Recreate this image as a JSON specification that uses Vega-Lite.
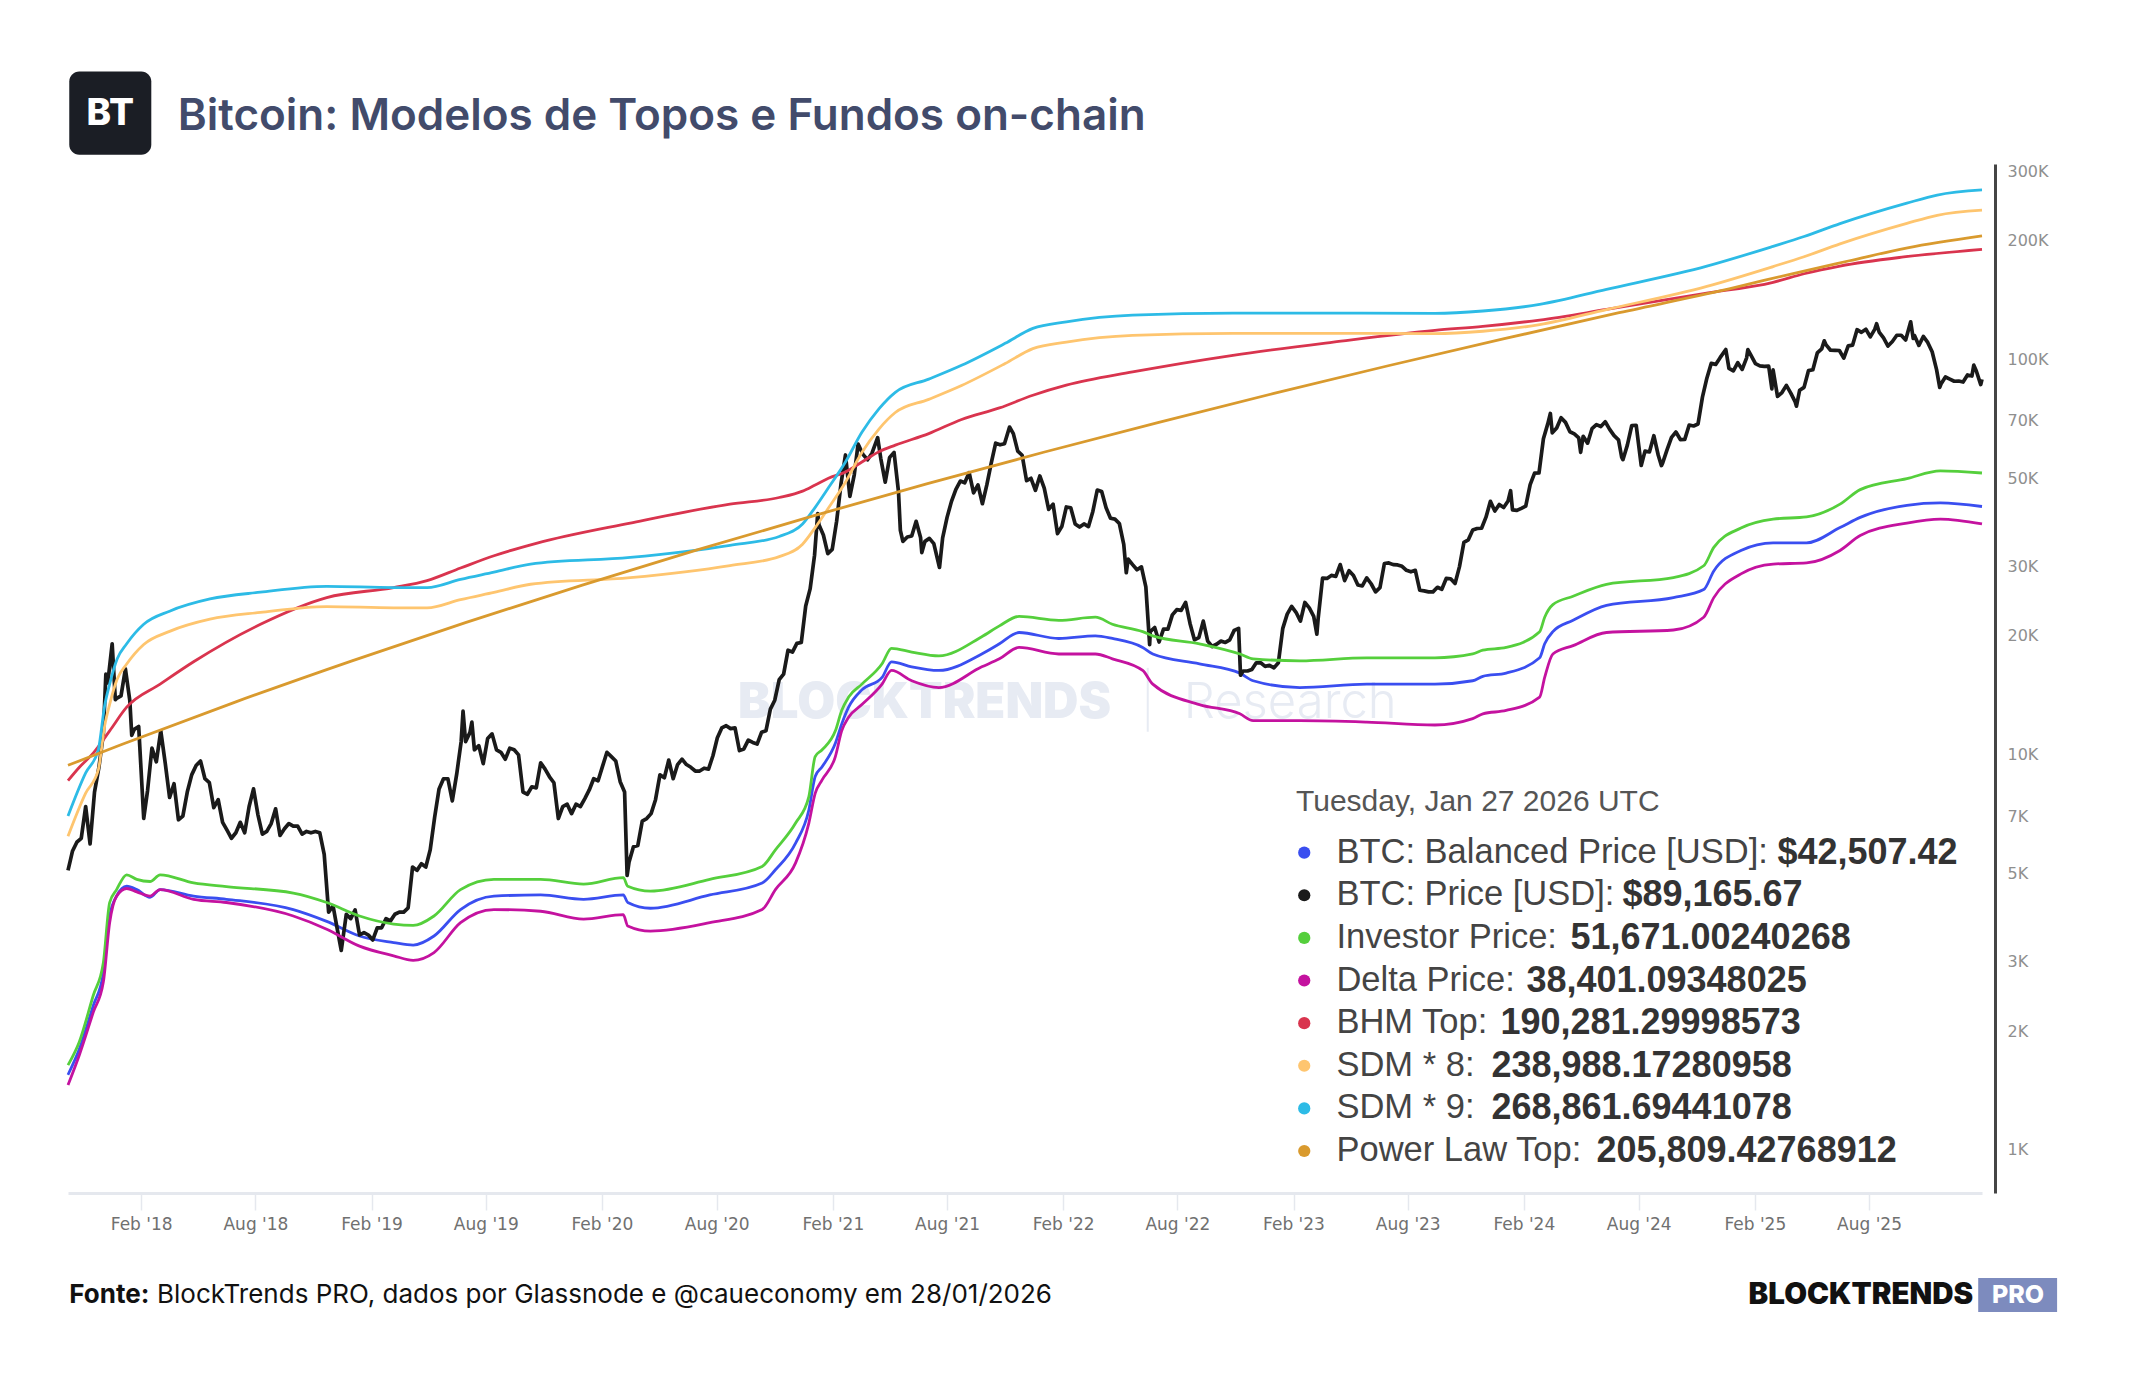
{
  "$schema": "https://vega.github.io/schema/vega-lite/v6.json",
  "width": 1914,
  "height": 1029,
  "autosize": {"type": "none"},
  "padding": {"left": 68, "top": 164, "right": 162, "bottom": 207},
  "background": "#ffffff",
  "config": {"view": {"stroke": null}, "font": "DejaVu Sans"},
  "datasets": {
    "price": [
      {"d":"2017-10-08","v":5100},{"d":"2017-10-12","v":5430},{"d":"2017-10-15","v":5700},{"d":"2017-10-22","v":6010},{"d":"2017-10-29","v":6150},
      {"d":"2017-11-05","v":7400},{"d":"2017-11-12","v":5950},{"d":"2017-11-19","v":8050},{"d":"2017-11-26","v":9300},{"d":"2017-12-03","v":11300},
      {"d":"2017-12-07","v":16000},{"d":"2017-12-10","v":15200},{"d":"2017-12-17","v":19100},{"d":"2017-12-22","v":13800},{"d":"2017-12-24","v":13900},
      {"d":"2017-12-31","v":14100},{"d":"2018-01-07","v":16500},{"d":"2018-01-14","v":13700},{"d":"2018-01-17","v":11200},{"d":"2018-01-21","v":11600},
      {"d":"2018-01-28","v":11800},{"d":"2018-02-05","v":6900},{"d":"2018-02-11","v":8100},{"d":"2018-02-18","v":10400},{"d":"2018-02-25","v":9600},
      {"d":"2018-03-04","v":11500},{"d":"2018-03-11","v":9550},{"d":"2018-03-18","v":7800},{"d":"2018-03-25","v":8450},{"d":"2018-04-01","v":6850},
      {"d":"2018-04-08","v":7000},{"d":"2018-04-15","v":8050},{"d":"2018-04-22","v":8900},{"d":"2018-04-29","v":9400},{"d":"2018-05-06","v":9650},
      {"d":"2018-05-13","v":8700},{"d":"2018-05-20","v":8500},{"d":"2018-05-27","v":7350},{"d":"2018-06-03","v":7700},{"d":"2018-06-10","v":6750},
      {"d":"2018-06-17","v":6450},{"d":"2018-06-24","v":6150},{"d":"2018-07-01","v":6350},{"d":"2018-07-08","v":6750},{"d":"2018-07-15","v":6350},
      {"d":"2018-07-22","v":7400},{"d":"2018-07-29","v":8200},{"d":"2018-08-05","v":7050},{"d":"2018-08-12","v":6300},{"d":"2018-08-19","v":6400},
      {"d":"2018-08-26","v":6700},{"d":"2018-09-02","v":7300},{"d":"2018-09-09","v":6250},{"d":"2018-09-16","v":6500},{"d":"2018-09-23","v":6700},
      {"d":"2018-09-30","v":6600},{"d":"2018-10-07","v":6600},{"d":"2018-10-14","v":6300},{"d":"2018-10-21","v":6400},{"d":"2018-10-28","v":6350},
      {"d":"2018-11-04","v":6400},{"d":"2018-11-11","v":6350},{"d":"2018-11-18","v":5600},{"d":"2018-11-25","v":4000},{"d":"2018-12-02","v":4150},
      {"d":"2018-12-09","v":3600},{"d":"2018-12-15","v":3200},{"d":"2018-12-23","v":3950},{"d":"2018-12-30","v":3850},{"d":"2019-01-06","v":4050},
      {"d":"2019-01-13","v":3500},{"d":"2019-01-20","v":3550},{"d":"2019-01-27","v":3500},{"d":"2019-02-03","v":3400},{"d":"2019-02-10","v":3650},
      {"d":"2019-02-17","v":3650},{"d":"2019-02-24","v":3850},{"d":"2019-03-03","v":3800},{"d":"2019-03-10","v":3950},{"d":"2019-03-17","v":4000},
      {"d":"2019-03-24","v":4000},{"d":"2019-03-31","v":4100},{"d":"2019-04-07","v":5200},{"d":"2019-04-14","v":5100},{"d":"2019-04-21","v":5300},
      {"d":"2019-04-28","v":5200},{"d":"2019-05-05","v":5750},{"d":"2019-05-12","v":6950},{"d":"2019-05-19","v":8200},{"d":"2019-05-26","v":8700},
      {"d":"2019-06-02","v":8700},{"d":"2019-06-09","v":7650},{"d":"2019-06-16","v":8950},{"d":"2019-06-23","v":10800},{"d":"2019-06-26","v":12900},
      {"d":"2019-06-30","v":10800},{"d":"2019-07-07","v":11400},{"d":"2019-07-10","v":12100},{"d":"2019-07-14","v":10300},{"d":"2019-07-21","v":10550},
      {"d":"2019-07-28","v":9500},{"d":"2019-08-04","v":11000},{"d":"2019-08-11","v":11300},{"d":"2019-08-18","v":10300},{"d":"2019-08-25","v":10150},
      {"d":"2019-09-01","v":9750},{"d":"2019-09-08","v":10400},{"d":"2019-09-15","v":10300},{"d":"2019-09-22","v":10000},{"d":"2019-09-29","v":8050},
      {"d":"2019-10-06","v":7950},{"d":"2019-10-13","v":8300},{"d":"2019-10-20","v":8250},{"d":"2019-10-27","v":9550},{"d":"2019-11-03","v":9200},
      {"d":"2019-11-10","v":8800},{"d":"2019-11-17","v":8500},{"d":"2019-11-24","v":6900},{"d":"2019-12-01","v":7400},{"d":"2019-12-08","v":7500},
      {"d":"2019-12-15","v":7100},{"d":"2019-12-22","v":7500},{"d":"2019-12-29","v":7400},{"d":"2020-01-05","v":7750},{"d":"2020-01-12","v":8150},
      {"d":"2020-01-19","v":8700},{"d":"2020-01-26","v":8600},{"d":"2020-02-02","v":9350},{"d":"2020-02-09","v":10150},{"d":"2020-02-16","v":9900},
      {"d":"2020-02-23","v":9650},{"d":"2020-03-01","v":8550},{"d":"2020-03-08","v":8050},{"d":"2020-03-12","v":4950},{"d":"2020-03-15","v":5350},
      {"d":"2020-03-22","v":5850},{"d":"2020-03-29","v":5900},{"d":"2020-04-05","v":6800},{"d":"2020-04-12","v":6900},{"d":"2020-04-19","v":7100},
      {"d":"2020-04-26","v":7700},{"d":"2020-05-03","v":8900},{"d":"2020-05-10","v":8750},{"d":"2020-05-17","v":9700},{"d":"2020-05-24","v":8700},
      {"d":"2020-05-31","v":9450},{"d":"2020-06-07","v":9750},{"d":"2020-06-14","v":9450},{"d":"2020-06-21","v":9300},{"d":"2020-06-28","v":9100},
      {"d":"2020-07-05","v":9100},{"d":"2020-07-12","v":9250},{"d":"2020-07-19","v":9200},{"d":"2020-07-26","v":9950},{"d":"2020-08-02","v":11050},
      {"d":"2020-08-09","v":11700},{"d":"2020-08-16","v":11850},{"d":"2020-08-23","v":11650},{"d":"2020-08-30","v":11700},{"d":"2020-09-06","v":10250},
      {"d":"2020-09-13","v":10350},{"d":"2020-09-20","v":10900},{"d":"2020-09-27","v":10750},{"d":"2020-10-04","v":10650},{"d":"2020-10-11","v":11400},
      {"d":"2020-10-18","v":11500},{"d":"2020-10-25","v":13050},{"d":"2020-11-01","v":13750},{"d":"2020-11-08","v":15500},{"d":"2020-11-15","v":16000},
      {"d":"2020-11-22","v":18400},{"d":"2020-11-29","v":18200},{"d":"2020-12-06","v":19150},{"d":"2020-12-13","v":19250},{"d":"2020-12-20","v":23800},
      {"d":"2020-12-27","v":26300},{"d":"2021-01-03","v":32000},{"d":"2021-01-08","v":40800},{"d":"2021-01-10","v":38200},{"d":"2021-01-17","v":36000},
      {"d":"2021-01-24","v":32300},{"d":"2021-01-31","v":33100},{"d":"2021-02-07","v":39000},{"d":"2021-02-14","v":48600},{"d":"2021-02-21","v":57400},
      {"d":"2021-02-28","v":45100},{"d":"2021-03-07","v":51200},{"d":"2021-03-13","v":61200},{"d":"2021-03-21","v":57500},{"d":"2021-03-28","v":55800},
      {"d":"2021-04-04","v":58000},{"d":"2021-04-13","v":63500},{"d":"2021-04-18","v":56200},{"d":"2021-04-25","v":49000},{"d":"2021-05-02","v":56600},
      {"d":"2021-05-09","v":58250},{"d":"2021-05-16","v":46400},{"d":"2021-05-19","v":37000},{"d":"2021-05-23","v":34700},{"d":"2021-05-30","v":35600},
      {"d":"2021-06-06","v":35800},{"d":"2021-06-13","v":39000},{"d":"2021-06-20","v":35500},{"d":"2021-06-22","v":32500},{"d":"2021-06-27","v":34700},
      {"d":"2021-07-04","v":35300},{"d":"2021-07-11","v":34250},{"d":"2021-07-20","v":29800},{"d":"2021-07-25","v":35400},{"d":"2021-08-01","v":39900},
      {"d":"2021-08-08","v":43800},{"d":"2021-08-15","v":47000},{"d":"2021-08-22","v":49300},{"d":"2021-08-29","v":48800},{"d":"2021-09-05","v":51800},
      {"d":"2021-09-12","v":46000},{"d":"2021-09-19","v":48200},{"d":"2021-09-26","v":43200},{"d":"2021-10-03","v":48200},{"d":"2021-10-10","v":54700},
      {"d":"2021-10-17","v":61500},{"d":"2021-10-24","v":60900},{"d":"2021-10-31","v":61300},{"d":"2021-11-08","v":67550},{"d":"2021-11-14","v":65000},
      {"d":"2021-11-21","v":58700},{"d":"2021-11-28","v":57300},{"d":"2021-12-05","v":49400},{"d":"2021-12-12","v":50100},{"d":"2021-12-19","v":46700},
      {"d":"2021-12-26","v":50800},{"d":"2022-01-02","v":47300},{"d":"2022-01-09","v":41800},{"d":"2022-01-16","v":43100},{"d":"2022-01-23","v":36300},
      {"d":"2022-01-30","v":37900},{"d":"2022-02-06","v":42400},{"d":"2022-02-13","v":42200},{"d":"2022-02-20","v":38400},{"d":"2022-02-27","v":37700},
      {"d":"2022-03-06","v":38400},{"d":"2022-03-13","v":37800},{"d":"2022-03-20","v":41300},{"d":"2022-03-27","v":46800},{"d":"2022-04-03","v":46400},
      {"d":"2022-04-10","v":42200},{"d":"2022-04-17","v":39700},{"d":"2022-04-24","v":39500},{"d":"2022-05-01","v":38500},{"d":"2022-05-08","v":34100},
      {"d":"2022-05-12","v":28900},{"d":"2022-05-15","v":31300},{"d":"2022-05-22","v":30300},{"d":"2022-05-29","v":29400},{"d":"2022-06-05","v":29900},
      {"d":"2022-06-12","v":26600},{"d":"2022-06-18","v":19000},{"d":"2022-06-19","v":20500},{"d":"2022-06-26","v":21000},{"d":"2022-07-03","v":19300},
      {"d":"2022-07-10","v":20800},{"d":"2022-07-17","v":20800},{"d":"2022-07-24","v":22600},{"d":"2022-07-31","v":23300},{"d":"2022-08-07","v":23200},
      {"d":"2022-08-14","v":24300},{"d":"2022-08-21","v":21500},{"d":"2022-08-28","v":19550},{"d":"2022-09-04","v":19800},{"d":"2022-09-11","v":21800},
      {"d":"2022-09-18","v":19400},{"d":"2022-09-25","v":18800},{"d":"2022-10-02","v":19050},{"d":"2022-10-09","v":19400},{"d":"2022-10-16","v":19250},
      {"d":"2022-10-23","v":19550},{"d":"2022-10-30","v":20650},{"d":"2022-11-06","v":20900},{"d":"2022-11-09","v":15900},{"d":"2022-11-13","v":16300},
      {"d":"2022-11-20","v":16300},{"d":"2022-11-27","v":16450},{"d":"2022-12-04","v":17100},{"d":"2022-12-11","v":17100},{"d":"2022-12-18","v":16750},
      {"d":"2022-12-25","v":16850},{"d":"2023-01-01","v":16600},{"d":"2023-01-08","v":17100},{"d":"2023-01-15","v":20900},{"d":"2023-01-22","v":22700},
      {"d":"2023-01-29","v":23750},{"d":"2023-02-05","v":22950},{"d":"2023-02-12","v":21800},{"d":"2023-02-19","v":24300},{"d":"2023-02-26","v":23550},
      {"d":"2023-03-05","v":22400},{"d":"2023-03-10","v":20200},{"d":"2023-03-12","v":22100},{"d":"2023-03-19","v":28000},{"d":"2023-03-26","v":27950},
      {"d":"2023-04-02","v":28450},{"d":"2023-04-09","v":28300},{"d":"2023-04-16","v":30300},{"d":"2023-04-23","v":27600},{"d":"2023-04-30","v":29250},
      {"d":"2023-05-07","v":28450},{"d":"2023-05-14","v":26900},{"d":"2023-05-21","v":26750},{"d":"2023-05-28","v":28050},{"d":"2023-06-04","v":27100},
      {"d":"2023-06-11","v":25850},{"d":"2023-06-18","v":26500},{"d":"2023-06-25","v":30500},{"d":"2023-07-02","v":30600},{"d":"2023-07-09","v":30300},
      {"d":"2023-07-16","v":30250},{"d":"2023-07-23","v":30000},{"d":"2023-07-30","v":29300},{"d":"2023-08-06","v":29050},{"d":"2023-08-13","v":29300},
      {"d":"2023-08-20","v":26100},{"d":"2023-08-27","v":26000},{"d":"2023-09-03","v":25850},{"d":"2023-09-10","v":25850},{"d":"2023-09-17","v":26550},
      {"d":"2023-09-24","v":26250},{"d":"2023-10-01","v":27950},{"d":"2023-10-08","v":27900},{"d":"2023-10-15","v":27150},{"d":"2023-10-22","v":29950},
      {"d":"2023-10-29","v":34500},{"d":"2023-11-05","v":35000},{"d":"2023-11-12","v":37050},{"d":"2023-11-19","v":37400},{"d":"2023-11-26","v":37450},
      {"d":"2023-12-03","v":39950},{"d":"2023-12-10","v":43800},{"d":"2023-12-17","v":41400},{"d":"2023-12-24","v":43000},{"d":"2023-12-31","v":42250},
      {"d":"2024-01-07","v":43900},{"d":"2024-01-11","v":46600},{"d":"2024-01-14","v":41700},{"d":"2024-01-21","v":41550},{"d":"2024-01-28","v":42050},
      {"d":"2024-02-04","v":42600},{"d":"2024-02-11","v":48300},{"d":"2024-02-18","v":51650},{"d":"2024-02-25","v":51700},{"d":"2024-03-03","v":63100},
      {"d":"2024-03-10","v":68900},{"d":"2024-03-14","v":73100},{"d":"2024-03-17","v":65300},{"d":"2024-03-24","v":67200},{"d":"2024-03-31","v":71300},
      {"d":"2024-04-07","v":69400},{"d":"2024-04-14","v":65700},{"d":"2024-04-21","v":64900},{"d":"2024-04-28","v":63400},{"d":"2024-05-01","v":58300},
      {"d":"2024-05-05","v":64000},{"d":"2024-05-12","v":61500},{"d":"2024-05-19","v":66900},{"d":"2024-05-26","v":68500},{"d":"2024-06-02","v":67750},
      {"d":"2024-06-09","v":69650},{"d":"2024-06-16","v":66650},{"d":"2024-06-23","v":64250},{"d":"2024-06-30","v":62700},{"d":"2024-07-05","v":56700},
      {"d":"2024-07-07","v":55850},{"d":"2024-07-14","v":60800},{"d":"2024-07-21","v":68150},{"d":"2024-07-28","v":68250},{"d":"2024-08-05","v":54000},
      {"d":"2024-08-11","v":58700},{"d":"2024-08-18","v":58400},{"d":"2024-08-25","v":64200},{"d":"2024-09-01","v":57300},{"d":"2024-09-06","v":53950},
      {"d":"2024-09-08","v":54800},{"d":"2024-09-15","v":59200},{"d":"2024-09-22","v":63600},{"d":"2024-09-29","v":65600},{"d":"2024-10-06","v":62800},
      {"d":"2024-10-13","v":62850},{"d":"2024-10-20","v":68350},{"d":"2024-10-27","v":67950},{"d":"2024-11-03","v":68750},{"d":"2024-11-10","v":80400},
      {"d":"2024-11-17","v":89800},{"d":"2024-11-24","v":97900},{"d":"2024-12-01","v":97300},{"d":"2024-12-08","v":101200},{"d":"2024-12-17","v":106100},
      {"d":"2024-12-22","v":95100},{"d":"2024-12-29","v":93700},{"d":"2025-01-05","v":98300},{"d":"2025-01-12","v":94500},{"d":"2025-01-19","v":101100},
      {"d":"2025-01-21","v":106100},{"d":"2025-01-26","v":102600},{"d":"2025-02-02","v":97700},{"d":"2025-02-09","v":96500},{"d":"2025-02-16","v":96200},
      {"d":"2025-02-23","v":96300},{"d":"2025-02-28","v":84400},{"d":"2025-03-02","v":94200},{"d":"2025-03-09","v":80700},{"d":"2025-03-16","v":82600},
      {"d":"2025-03-23","v":86100},{"d":"2025-03-30","v":82300},{"d":"2025-04-06","v":78200},{"d":"2025-04-08","v":76300},{"d":"2025-04-13","v":83700},
      {"d":"2025-04-20","v":85100},{"d":"2025-04-27","v":93800},{"d":"2025-05-04","v":94300},{"d":"2025-05-11","v":104000},{"d":"2025-05-18","v":106500},
      {"d":"2025-05-22","v":111600},{"d":"2025-05-25","v":109000},{"d":"2025-06-01","v":105700},{"d":"2025-06-08","v":105600},{"d":"2025-06-15","v":105500},
      {"d":"2025-06-22","v":100900},{"d":"2025-06-29","v":108400},{"d":"2025-07-06","v":108900},{"d":"2025-07-13","v":119100},{"d":"2025-07-20","v":117300},
      {"d":"2025-07-27","v":119400},{"d":"2025-08-03","v":114200},{"d":"2025-08-10","v":119300},{"d":"2025-08-13","v":123300},{"d":"2025-08-17","v":117500},
      {"d":"2025-08-24","v":113500},{"d":"2025-08-31","v":108300},{"d":"2025-09-07","v":111200},{"d":"2025-09-14","v":115300},{"d":"2025-09-21","v":115300},
      {"d":"2025-09-28","v":112200},{"d":"2025-10-06","v":124700},{"d":"2025-10-10","v":113200},{"d":"2025-10-12","v":115200},{"d":"2025-10-19","v":108700},
      {"d":"2025-10-26","v":114500},{"d":"2025-11-02","v":110600},{"d":"2025-11-09","v":104700},{"d":"2025-11-16","v":94400},{"d":"2025-11-21","v":85100},
      {"d":"2025-11-23","v":86800},{"d":"2025-11-30","v":90400},{"d":"2025-12-07","v":89300},{"d":"2025-12-14","v":88200},{"d":"2025-12-21","v":88300},
      {"d":"2025-12-28","v":87800},{"d":"2026-01-04","v":91500},{"d":"2026-01-11","v":90900},{"d":"2026-01-14","v":96900},{"d":"2026-01-18","v":93600},
      {"d":"2026-01-25","v":86500},{"d":"2026-01-27","v":89165.67}
    ],
    "bal": [
      {"d":"2017-10-08","v":1550},{"d":"2017-10-26","v":1800},{"d":"2017-11-17","v":2320},{"d":"2017-12-03","v":2800},{"d":"2017-12-13","v":3910},
      {"d":"2017-12-24","v":4390},{"d":"2018-01-09","v":4650},{"d":"2018-01-25","v":4560},{"d":"2018-02-15","v":4360},{"d":"2018-03-03","v":4560},
      {"d":"2018-04-25","v":4390},{"d":"2018-06-16","v":4310},{"d":"2018-09-30","v":4060},{"d":"2018-11-22","v":3790},{"d":"2019-01-13","v":3480},
      {"d":"2019-03-08","v":3350},{"d":"2019-04-08","v":3300},{"d":"2019-05-11","v":3480},{"d":"2019-06-22","v":4060},{"d":"2019-08-14","v":4390},
      {"d":"2019-10-27","v":4420},{"d":"2020-01-03","v":4310},{"d":"2020-03-06","v":4420},{"d":"2020-03-13","v":4230},{"d":"2020-04-18","v":4090},
      {"d":"2020-07-21","v":4420},{"d":"2020-10-12","v":4740},{"d":"2020-11-02","v":5120},{"d":"2020-12-04","v":5980},{"d":"2020-12-25","v":7250},
      {"d":"2021-01-04","v":8810},{"d":"2021-01-15","v":9330},{"d":"2021-02-05","v":10700},{"d":"2021-02-15","v":11960},{"d":"2021-02-26","v":13200},
      {"d":"2021-03-19","v":14600},{"d":"2021-04-20","v":15700},{"d":"2021-05-05","v":17200},{"d":"2021-06-06","v":16700},{"d":"2021-07-19","v":16350},
      {"d":"2021-09-25","v":18000},{"d":"2021-10-23","v":19100},{"d":"2021-11-23","v":20400},{"d":"2022-01-25","v":19700},{"d":"2022-03-24","v":20000},
      {"d":"2022-04-20","v":19700},{"d":"2022-06-07","v":18700},{"d":"2022-06-23","v":18000},{"d":"2022-09-05","v":17000},{"d":"2022-11-08","v":16100},
      {"d":"2022-11-29","v":15400},{"d":"2023-02-11","v":14800},{"d":"2023-05-28","v":15100},{"d":"2023-09-13","v":15100},{"d":"2023-11-12","v":15400},
      {"d":"2023-11-28","v":15800},{"d":"2024-01-04","v":16100},{"d":"2024-02-26","v":17600},{"d":"2024-03-05","v":19100},{"d":"2024-03-18","v":20500},
      {"d":"2024-04-19","v":21900},{"d":"2024-06-11","v":23900},{"d":"2024-09-25","v":25000},{"d":"2024-11-12","v":26200},{"d":"2024-11-28","v":29200},
      {"d":"2025-01-10","v":32900},{"d":"2025-03-02","v":34400},{"d":"2025-04-24","v":34400},{"d":"2025-06-16","v":37600},{"d":"2025-07-18","v":39900},
      {"d":"2025-09-30","v":42800},{"d":"2025-11-22","v":43400},{"d":"2026-01-27","v":42507.42}
    ],
    "inv": [
      {"d":"2017-10-08","v":1640},{"d":"2017-10-26","v":1880},{"d":"2017-11-17","v":2460},{"d":"2017-12-03","v":2980},{"d":"2017-12-13","v":4230},
      {"d":"2017-12-24","v":4560},{"d":"2018-01-09","v":4970},{"d":"2018-01-25","v":4840},{"d":"2018-02-15","v":4780},{"d":"2018-03-03","v":4970},
      {"d":"2018-04-25","v":4740},{"d":"2018-06-16","v":4640},{"d":"2018-09-30","v":4470},{"d":"2018-11-22","v":4230},{"d":"2019-01-13","v":3910},
      {"d":"2019-03-08","v":3730},{"d":"2019-04-08","v":3700},{"d":"2019-05-11","v":3910},{"d":"2019-06-22","v":4560},{"d":"2019-08-14","v":4840},
      {"d":"2019-10-27","v":4840},{"d":"2020-01-03","v":4710},{"d":"2020-03-06","v":4890},{"d":"2020-03-13","v":4650},{"d":"2020-04-18","v":4520},
      {"d":"2020-07-21","v":4840},{"d":"2020-10-12","v":5220},{"d":"2020-11-02","v":5750},{"d":"2020-12-04","v":6720},{"d":"2020-12-25","v":7840},
      {"d":"2021-01-04","v":9900},{"d":"2021-01-15","v":10300},{"d":"2021-02-05","v":11500},{"d":"2021-02-15","v":12950},{"d":"2021-02-26","v":14000},
      {"d":"2021-03-19","v":15100},{"d":"2021-04-20","v":17000},{"d":"2021-05-05","v":18600},{"d":"2021-06-06","v":18200},{"d":"2021-07-19","v":17800},
      {"d":"2021-09-25","v":19900},{"d":"2021-10-23","v":21200},{"d":"2021-11-23","v":22400},{"d":"2022-01-25","v":21900},{"d":"2022-03-24","v":22300},
      {"d":"2022-04-20","v":21400},{"d":"2022-06-07","v":20500},{"d":"2022-06-23","v":20000},{"d":"2022-09-05","v":19100},{"d":"2022-11-08","v":18000},
      {"d":"2022-11-29","v":17500},{"d":"2023-02-11","v":17300},{"d":"2023-05-28","v":17600},{"d":"2023-09-13","v":17600},{"d":"2023-11-12","v":18000},
      {"d":"2023-11-28","v":18400},{"d":"2024-01-04","v":18700},{"d":"2024-02-26","v":20500},{"d":"2024-03-05","v":22300},{"d":"2024-03-18","v":24000},
      {"d":"2024-04-19","v":25200},{"d":"2024-06-11","v":27000},{"d":"2024-09-25","v":28100},{"d":"2024-11-12","v":30100},{"d":"2024-11-28","v":33500},
      {"d":"2025-01-10","v":37500},{"d":"2025-03-02","v":39500},{"d":"2025-04-24","v":40000},{"d":"2025-06-16","v":43100},{"d":"2025-07-18","v":46900},
      {"d":"2025-09-30","v":50000},{"d":"2025-11-22","v":52300},{"d":"2026-01-27","v":51671.00240268}
    ],
    "delta": [
      {"d":"2017-10-08","v":1460},{"d":"2017-10-26","v":1740},{"d":"2017-11-17","v":2230},{"d":"2017-12-03","v":2660},{"d":"2017-12-13","v":3760},
      {"d":"2017-12-24","v":4390},{"d":"2018-01-09","v":4590},{"d":"2018-01-25","v":4500},{"d":"2018-02-15","v":4390},{"d":"2018-03-03","v":4560},
      {"d":"2018-04-25","v":4310},{"d":"2018-06-16","v":4230},{"d":"2018-09-30","v":3910},{"d":"2018-11-22","v":3620},{"d":"2019-01-13","v":3280},
      {"d":"2019-03-08","v":3100},{"d":"2019-04-08","v":3020},{"d":"2019-05-11","v":3160},{"d":"2019-06-22","v":3760},{"d":"2019-08-14","v":4060},
      {"d":"2019-10-27","v":4020},{"d":"2020-01-03","v":3840},{"d":"2020-03-06","v":3940},{"d":"2020-03-13","v":3690},{"d":"2020-04-18","v":3580},
      {"d":"2020-07-21","v":3760},{"d":"2020-10-12","v":4060},{"d":"2020-11-02","v":4560},{"d":"2020-12-04","v":5330},{"d":"2020-12-25","v":6720},
      {"d":"2021-01-04","v":7990},{"d":"2021-01-15","v":8640},{"d":"2021-02-05","v":9900},{"d":"2021-02-15","v":11500},{"d":"2021-02-26","v":12450},
      {"d":"2021-03-19","v":13400},{"d":"2021-04-20","v":15100},{"d":"2021-05-05","v":16350},{"d":"2021-06-06","v":15400},{"d":"2021-07-19","v":14800},
      {"d":"2021-09-25","v":16700},{"d":"2021-10-23","v":17500},{"d":"2021-11-23","v":18700},{"d":"2022-01-25","v":18000},{"d":"2022-03-24","v":18000},
      {"d":"2022-04-20","v":17500},{"d":"2022-06-07","v":16350},{"d":"2022-06-23","v":15100},{"d":"2022-09-05","v":13400},{"d":"2022-11-08","v":12700},
      {"d":"2022-11-29","v":12200},{"d":"2023-02-11","v":12200},{"d":"2023-05-28","v":12100},{"d":"2023-09-13","v":11900},{"d":"2023-11-12","v":12350},
      {"d":"2023-11-28","v":12700},{"d":"2024-01-04","v":12950},{"d":"2024-02-26","v":14000},{"d":"2024-03-05","v":15700},{"d":"2024-03-18","v":18000},
      {"d":"2024-04-19","v":18900},{"d":"2024-06-11","v":20400},{"d":"2024-09-25","v":20700},{"d":"2024-11-12","v":22300},{"d":"2024-11-28","v":25000},
      {"d":"2025-01-10","v":28700},{"d":"2025-03-02","v":30400},{"d":"2025-04-24","v":30600},{"d":"2025-06-16","v":32900},{"d":"2025-07-18","v":35900},
      {"d":"2025-09-30","v":38600},{"d":"2025-11-22","v":39500},{"d":"2026-01-27","v":38401.09348025}
    ],
    "bhm": [
      {"d":"2017-10-08","v":8600},{"d":"2017-10-26","v":9300},{"d":"2017-11-17","v":10100},{"d":"2017-12-13","v":11500},{"d":"2018-01-09","v":13200},
      {"d":"2018-03-03","v":15100},{"d":"2018-04-25","v":17200},{"d":"2018-08-09","v":21400},{"d":"2018-11-22","v":25000},{"d":"2019-03-08","v":26500},
      {"d":"2019-04-30","v":27600},{"d":"2019-06-22","v":29700},{"d":"2019-08-14","v":31900},{"d":"2019-10-20","v":34300},{"d":"2020-03-17","v":38600},
      {"d":"2020-08-22","v":43100},{"d":"2020-11-08","v":44800},{"d":"2020-12-15","v":46500},{"d":"2021-01-04","v":48200},{"d":"2021-01-25","v":50100},
      {"d":"2021-02-21","v":52000},{"d":"2021-03-19","v":55100},{"d":"2021-04-15","v":58500},{"d":"2021-05-11","v":60800},{"d":"2021-07-03","v":65000},
      {"d":"2021-08-24","v":70600},{"d":"2021-10-23","v":75500},{"d":"2021-12-15","v":81300},{"d":"2022-02-06","v":86200},{"d":"2022-05-22","v":93100},
      {"d":"2022-10-28","v":102600},{"d":"2023-04-05","v":110800},{"d":"2023-09-13","v":118700},{"d":"2023-11-28","v":121400},{"d":"2024-02-26","v":126000},
      {"d":"2024-06-11","v":134000},{"d":"2024-11-12","v":147000},{"d":"2025-03-02","v":157000},{"d":"2025-04-20","v":165000},{"d":"2025-06-16","v":172600},
      {"d":"2025-09-25","v":182000},{"d":"2026-01-27","v":190281.29998573}
    ],
    "sdm8": [
      {"d":"2017-10-08","v":6222},{"d":"2017-11-05","v":8000},{"d":"2017-11-25","v":9156},{"d":"2017-12-05","v":11822},{"d":"2017-12-13","v":13422},
      {"d":"2017-12-25","v":15556},{"d":"2018-01-09","v":16978},{"d":"2018-02-05","v":19022},{"d":"2018-03-18","v":20533},{"d":"2018-05-21","v":22044},
      {"d":"2018-08-09","v":22933},{"d":"2018-11-22","v":23733},{"d":"2019-03-08","v":23556},{"d":"2019-04-30","v":23556},{"d":"2019-06-22","v":24711},
      {"d":"2019-08-14","v":25778},{"d":"2019-10-11","v":27022},{"d":"2020-03-17","v":28089},{"d":"2020-08-22","v":30133},{"d":"2020-11-08","v":31733},
      {"d":"2020-12-15","v":34133},{"d":"2021-01-04","v":37600},{"d":"2021-01-25","v":42133},{"d":"2021-02-21","v":48978},{"d":"2021-03-19","v":58222},
      {"d":"2021-04-15","v":66756},{"d":"2021-05-11","v":73511},{"d":"2021-07-03","v":79378},{"d":"2021-08-24","v":86044},{"d":"2021-11-01","v":97778},
      {"d":"2021-12-15","v":106667},{"d":"2022-02-06","v":110844},{"d":"2022-05-22","v":115289},{"d":"2022-10-28","v":116622},{"d":"2023-04-05","v":116622},
      {"d":"2023-09-13","v":116444},{"d":"2023-11-28","v":118044},{"d":"2024-02-26","v":122667},{"d":"2024-06-11","v":133956},{"d":"2024-11-17","v":153333},
      {"d":"2025-03-02","v":172089},{"d":"2025-04-20","v":182222},{"d":"2025-06-16","v":196444},{"d":"2025-09-30","v":221333},{"d":"2025-11-17","v":232000},
      {"d":"2026-01-27","v":238988.17280958}
    ],
    "sdm9": [
      {"d":"2017-10-08","v":7000},{"d":"2017-11-05","v":9000},{"d":"2017-11-25","v":10300},{"d":"2017-12-05","v":13300},{"d":"2017-12-13","v":15100},
      {"d":"2017-12-25","v":17500},{"d":"2018-01-09","v":19100},{"d":"2018-02-05","v":21400},{"d":"2018-03-18","v":23100},{"d":"2018-05-21","v":24800},
      {"d":"2018-08-09","v":25800},{"d":"2018-11-22","v":26700},{"d":"2019-03-08","v":26500},{"d":"2019-04-30","v":26500},{"d":"2019-06-22","v":27800},
      {"d":"2019-08-14","v":29000},{"d":"2019-10-11","v":30400},{"d":"2020-03-17","v":31600},{"d":"2020-08-22","v":33900},{"d":"2020-11-08","v":35700},
      {"d":"2020-12-15","v":38400},{"d":"2021-01-04","v":42300},{"d":"2021-01-25","v":47400},{"d":"2021-02-21","v":55100},{"d":"2021-03-19","v":65500},
      {"d":"2021-04-15","v":75100},{"d":"2021-05-11","v":82700},{"d":"2021-07-03","v":89300},{"d":"2021-08-24","v":96800},{"d":"2021-11-01","v":110000},
      {"d":"2021-12-15","v":120000},{"d":"2022-02-06","v":124700},{"d":"2022-05-22","v":129700},{"d":"2022-10-28","v":131200},{"d":"2023-04-05","v":131200},
      {"d":"2023-09-13","v":131000},{"d":"2023-11-28","v":132800},{"d":"2024-02-26","v":138000},{"d":"2024-06-11","v":150700},{"d":"2024-11-17","v":172500},
      {"d":"2025-03-02","v":193600},{"d":"2025-04-20","v":205000},{"d":"2025-06-16","v":221000},{"d":"2025-09-30","v":249000},{"d":"2025-11-17","v":261000},
      {"d":"2026-01-27","v":268861.69441078}
    ],
    "plt": [
      {"d":"2017-10-08","v":9408},{"d":"2018-01-01","v":10620},{"d":"2018-07-01","v":13618},{"d":"2019-01-01","v":17298},{"d":"2019-07-01","v":21637},
      {"d":"2020-01-01","v":26883},{"d":"2020-07-01","v":33000},{"d":"2021-01-01","v":40251},{"d":"2021-07-01","v":48548},{"d":"2022-01-01","v":58314},
      {"d":"2022-07-01","v":69335},{"d":"2023-01-01","v":82167},{"d":"2023-07-01","v":96531},{"d":"2024-01-01","v":113032},{"d":"2024-07-01","v":131494},
      {"d":"2025-01-01","v":152482},{"d":"2025-04-01","v":165000},{"d":"2025-07-01","v":178000},{"d":"2025-10-01","v":192000},{"d":"2026-01-27","v":205809.42768912}
    ],
    "tip": [
      {"k":"bal","name":"BTC: Balanced Price [USD]:","v":42507.42},
      {"k":"btc","name":"BTC: Price [USD]:","v":89165.67},
      {"k":"inv","name":"Investor Price:","v":51671.00240268},
      {"k":"delta","name":"Delta Price:","v":38401.09348025},
      {"k":"bhm","name":"BHM Top:","v":190281.29998573},
      {"k":"sdm8","name":"SDM * 8:","v":238988.17280958},
      {"k":"sdm9","name":"SDM * 9:","v":268861.69441078},
      {"k":"plt","name":"Power Law Top:","v":205809.42768912}
    ]
  },
  "layer": [
    {
      "data": {"values": [{}]},
      "encoding": {
        "y": {"datum": 12400, "type": "quantitative", "axis": null, "scale": {"type": "log", "nice": false, "domain": [778.3, 312800]}}
      },
      "layer": [
        {
          "mark": {"type": "text", "text": "BLOCKTRENDS", "align": "right", "baseline": "alphabetic", "font": "Inter", "fontWeight": 900, "fontSize": 49, "color": "#e7ebf3"},
          "encoding": {"x": {"datum": {"year": 2022, "month": 4, "date": 18, "utc": true}, "type": "temporal"}}
        },
        {
          "mark": {"type": "rule", "color": "#e7ebf3", "strokeWidth": 2},
          "encoding": {"x": {"datum": {"year": 2022, "month": 6, "date": 15, "utc": true}, "type": "temporal"}, "y": {"datum": 16600, "type": "quantitative"}, "y2": {"datum": 11440}}
        },
        {
          "mark": {"type": "text", "text": "Research", "align": "left", "baseline": "alphabetic", "font": "Inter", "fontWeight": 300, "fontSize": 49, "color": "#e7ebf3"},
          "encoding": {"x": {"datum": {"year": 2022, "month": 8, "date": 11, "utc": true}, "type": "temporal"}}
        },
        {
          "mark": {"type": "rect", "color": "#1b1e25", "cornerRadius": 10},
          "encoding": {
            "x": {"datum": {"year": 2017, "month": 10, "date": 10, "utc": true}, "type": "temporal"},
            "x2": {"datum": {"year": 2018, "month": 2, "date": 17, "utc": true}},
            "y": {"datum": 535900, "type": "quantitative"}, "y2": {"datum": 330300}
          }
        },
        {
          "mark": {"type": "text", "text": "BT", "font": "Inter", "fontWeight": 800, "fontSize": 37, "color": "#ffffff", "align": "center", "baseline": "middle"},
          "encoding": {"x": {"datum": {"year": 2017, "month": 12, "date": 14, "utc": true}, "type": "temporal"}, "y": {"datum": 418000, "type": "quantitative"}}
        },
        {
          "mark": {"type": "text", "text": "Bitcoin: Modelos de Topos e Fundos on-chain", "font": "Inter", "fontWeight": 600, "fontSize": 44, "color": "#424b6b", "align": "left", "baseline": "alphabetic"},
          "encoding": {"x": {"datum": {"year": 2018, "month": 3, "date": 31, "utc": true}, "type": "temporal"}, "y": {"datum": 382200, "type": "quantitative"}}
        },
        {
          "mark": {"type": "text", "text": "Fonte:", "font": "Inter", "fontWeight": 700, "fontSize": 26, "color": "#111111", "align": "left", "baseline": "middle"},
          "encoding": {"x": {"datum": {"year": 2017, "month": 10, "date": 10, "utc": true}, "type": "temporal"}, "y": {"datum": 428.8, "type": "quantitative"}}
        },
        {
          "mark": {"type": "text", "text": "BlockTrends PRO, dados por Glassnode e @caueconomy em 28/01/2026", "font": "Inter", "fontWeight": 400, "fontSize": 26, "color": "#111111", "align": "left", "baseline": "middle"},
          "encoding": {"x": {"datum": {"year": 2018, "month": 2, "date": 26, "utc": true}, "type": "temporal"}, "y": {"datum": 428.8, "type": "quantitative"}}
        },
        {
          "mark": {"type": "text", "text": "BLOCKTRENDS", "font": "Inter", "fontWeight": 900, "fontSize": 29.5, "color": "#111111", "align": "right", "baseline": "middle"},
          "encoding": {"x": {"datum": {"year": 2026, "month": 1, "date": 13, "utc": true}, "type": "temporal"}, "y": {"datum": 429.8, "type": "quantitative"}}
        },
        {
          "mark": {"type": "rect", "color": "#7d8bbe"},
          "encoding": {
            "x": {"datum": {"year": 2026, "month": 1, "date": 21, "utc": true}, "type": "temporal"},
            "x2": {"datum": {"year": 2026, "month": 5, "date": 26, "utc": true}},
            "y": {"datum": 474.2, "type": "quantitative"}, "y2": {"datum": 388.9}
          }
        },
        {
          "mark": {"type": "text", "text": "PRO", "font": "Inter", "fontWeight": 800, "fontSize": 25, "color": "#ffffff", "align": "center", "baseline": "middle"},
          "encoding": {"x": {"datum": {"year": 2026, "month": 3, "date": 25, "utc": true}, "type": "temporal"}, "y": {"datum": 429.8, "type": "quantitative"}}
        }
      ]
    },
    {
      "encoding": {
        "x": {
          "field": "d", "type": "temporal",
          "scale": {"type": "utc", "nice": false, "domain": [{"year": 2017, "month": 10, "date": 8, "utc": true}, {"year": 2026, "month": 1, "date": 27, "utc": true}]},
          "axis": {
            "title": null, "grid": false, "labelExpr": "utcFormat(datum.value, \"%b '%y\")", "labelFlush": false,
            "values": [
              {"year": 2018, "month": 2, "date": 1, "utc": true}, {"year": 2018, "month": 8, "date": 1, "utc": true},
              {"year": 2019, "month": 2, "date": 1, "utc": true}, {"year": 2019, "month": 8, "date": 1, "utc": true},
              {"year": 2020, "month": 2, "date": 1, "utc": true}, {"year": 2020, "month": 8, "date": 1, "utc": true},
              {"year": 2021, "month": 2, "date": 1, "utc": true}, {"year": 2021, "month": 8, "date": 1, "utc": true},
              {"year": 2022, "month": 2, "date": 1, "utc": true}, {"year": 2022, "month": 8, "date": 1, "utc": true},
              {"year": 2023, "month": 2, "date": 1, "utc": true}, {"year": 2023, "month": 8, "date": 1, "utc": true},
              {"year": 2024, "month": 2, "date": 1, "utc": true}, {"year": 2024, "month": 8, "date": 1, "utc": true},
              {"year": 2025, "month": 2, "date": 1, "utc": true}, {"year": 2025, "month": 8, "date": 1, "utc": true}
            ],
            "domainColor": "#e5e8ee", "domainWidth": 3, "tickColor": "#e5e8ee", "tickWidth": 1.5, "tickSize": 17,
            "labelPadding": 6, "labelFont": "DejaVu Sans", "labelFontSize": 17, "labelColor": "#707070"
          }
        },
        "y": {
          "field": "v", "type": "quantitative",
          "scale": {"type": "log", "nice": false, "domain": [778.3, 312800]},
          "axis": {
            "title": null, "grid": false, "orient": "right", "offset": 13, "ticks": false,
            "values": [1000, 2000, 3000, 5000, 7000, 10000, 20000, 30000, 50000, 70000, 100000, 200000, 300000],
            "labelExpr": "(datum.value / 1000) + 'K'", "labelOverlap": false, "labelFlush": false,
            "domainColor": "#454545", "domainWidth": 3, "labelPadding": 12,
            "labelFont": "DejaVu Sans", "labelFontSize": 16, "labelColor": "#8f8f8f"
          }
        }
      },
      "layer": [
        {"data": {"name": "bal"}, "mark": {"type": "line", "color": "#3a4ef0", "strokeWidth": 2.8, "interpolate": "monotone"}},
        {"data": {"name": "price"}, "mark": {"type": "line", "color": "#1a1a1a", "strokeWidth": 3.7, "strokeJoin": "round"}},
        {"data": {"name": "inv"}, "mark": {"type": "line", "color": "#55cf3c", "strokeWidth": 2.8, "interpolate": "monotone"}},
        {"data": {"name": "delta"}, "mark": {"type": "line", "color": "#c4129f", "strokeWidth": 2.8, "interpolate": "monotone"}},
        {"data": {"name": "bhm"}, "mark": {"type": "line", "color": "#d9344e", "strokeWidth": 2.8, "interpolate": "monotone"}},
        {"data": {"name": "sdm8"}, "mark": {"type": "line", "color": "#fec56f", "strokeWidth": 2.8, "interpolate": "monotone"}},
        {"data": {"name": "sdm9"}, "mark": {"type": "line", "color": "#2dbbe6", "strokeWidth": 2.8, "interpolate": "monotone"}},
        {"data": {"name": "plt"}, "mark": {"type": "line", "color": "#d99a2e", "strokeWidth": 2.8, "interpolate": "monotone"}}
      ]
    },
    {
      "data": {"name": "tip"},
      "encoding": {
        "y": {"field": "k", "type": "nominal", "axis": null,
              "scale": {"type": "point", "padding": 0, "domain": ["hdr", "bal", "btc", "inv", "delta", "bhm", "sdm8", "sdm9", "plt"], "range": [646, 987]}}
      },
      "layer": [
        {
          "data": {"values": [{"h": 1}]},
          "mark": {"type": "text", "text": "Tuesday, Jan 27 2026 UTC", "font": "Liberation Sans", "fontSize": 30, "color": "#555555", "align": "left", "baseline": "middle", "dy": -8},
          "encoding": {"x": {"datum": {"year": 2023, "month": 2, "date": 5, "utc": true}, "type": "temporal"}, "y": {"datum": "hdr", "type": "nominal"}}
        },
        {
          "mark": {"type": "circle", "size": 150, "opacity": 1},
          "encoding": {
            "x": {"datum": {"year": 2023, "month": 2, "date": 18, "utc": true}, "type": "temporal"},
            "color": {"field": "k", "type": "nominal", "legend": null,
                      "scale": {"domain": ["bal", "btc", "inv", "delta", "bhm", "sdm8", "sdm9", "plt"],
                                "range": ["#3a4ef0", "#1a1a1a", "#55cf3c", "#c4129f", "#d9344e", "#fec56f", "#2dbbe6", "#d99a2e"]}}
          }
        },
        {
          "mark": {"type": "text", "font": "Liberation Sans", "fontSize": 34.5, "color": "#444444", "align": "left", "baseline": "middle"},
          "encoding": {"x": {"datum": {"year": 2023, "month": 4, "date": 10, "utc": true}, "type": "temporal"}, "text": {"field": "name"}}
        },
        {
          "transform": [{"filter": "datum.k === 'bal' || datum.k === 'btc'"}],
          "mark": {"type": "text", "font": "Liberation Sans", "fontSize": 36, "fontWeight": "bold", "color": "#333333", "align": "left", "baseline": "middle",
                   "dx": {"expr": "datum.k === 'bal' ? 441 : 286"}},
          "encoding": {"x": {"datum": {"year": 2023, "month": 4, "date": 10, "utc": true}, "type": "temporal"}, "text": {"field": "v", "type": "quantitative", "format": "$,.2f"}}
        },
        {
          "transform": [{"filter": "datum.k !== 'bal' && datum.k !== 'btc'"}],
          "mark": {"type": "text", "font": "Liberation Sans", "fontSize": 36, "fontWeight": "bold", "color": "#333333", "align": "left", "baseline": "middle",
                   "dx": {"expr": "datum.k === 'inv' ? 234 : datum.k === 'delta' ? 190 : datum.k === 'bhm' ? 164 : datum.k === 'plt' ? 260 : 155"}},
          "encoding": {"x": {"datum": {"year": 2023, "month": 4, "date": 10, "utc": true}, "type": "temporal"}, "text": {"field": "v", "type": "quantitative", "format": ",.8f"}}
        }
      ]
    }
  ],
  "resolve": {"scale": {"y": "independent"}}
}
